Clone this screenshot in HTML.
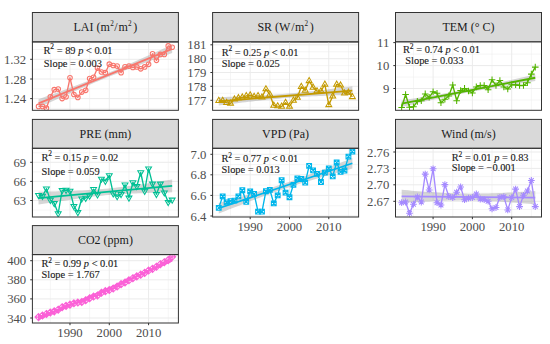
<!DOCTYPE html>
<html><head><meta charset="utf-8"><style>
html,body{margin:0;padding:0;background:#fff;}
body{width:550px;height:344px;overflow:hidden;}
svg{display:block;font-family:"Liberation Serif",serif;}
</style></head><body>
<svg width="550" height="344" viewBox="0 0 550 344">
<rect width="550" height="344" fill="#fff"/>
<rect x="32.40" y="12.50" width="146.00" height="29.40" fill="#D9D9D9" stroke="#333333" stroke-width="1"/>
<g clip-path="url(#cp00)">
<clipPath id="cp00"><rect x="32.40" y="41.90" width="146.00" height="68.40"/></clipPath>
<path d="M32.40 49.47H178.40" stroke="#EBEBEB" stroke-width="0.5"/><path d="M32.40 69.15H178.40" stroke="#EBEBEB" stroke-width="0.5"/><path d="M32.40 88.80H178.40" stroke="#EBEBEB" stroke-width="0.5"/><path d="M32.40 108.42H178.40" stroke="#EBEBEB" stroke-width="0.5"/><path d="M50.34 41.90V110.30" stroke="#EBEBEB" stroke-width="0.5"/><path d="M89.64 41.90V110.30" stroke="#EBEBEB" stroke-width="0.5"/><path d="M128.94 41.90V110.30" stroke="#EBEBEB" stroke-width="0.5"/><path d="M168.24 41.90V110.30" stroke="#EBEBEB" stroke-width="0.5"/><path d="M32.40 59.30H178.40" stroke="#EBEBEB" stroke-width="1"/><path d="M32.40 79.00H178.40" stroke="#EBEBEB" stroke-width="1"/><path d="M32.40 98.60H178.40" stroke="#EBEBEB" stroke-width="1"/><path d="M69.99 41.90V110.30" stroke="#EBEBEB" stroke-width="1"/><path d="M109.29 41.90V110.30" stroke="#EBEBEB" stroke-width="1"/><path d="M148.59 41.90V110.30" stroke="#EBEBEB" stroke-width="1"/>
<polygon points="38.55,99.23 41.89,98.02 45.23,96.81 48.57,95.59 51.91,94.38 55.25,93.16 58.59,91.93 61.93,90.70 65.27,89.47 68.61,88.24 71.95,86.99 75.30,85.74 78.64,84.48 81.98,83.22 85.32,81.94 88.66,80.66 92.00,79.36 95.34,78.05 98.68,76.73 102.02,75.39 105.36,74.04 108.70,72.67 112.04,71.29 115.38,69.89 118.72,68.48 122.06,67.06 125.40,65.62 128.74,64.18 132.08,62.73 135.42,61.26 138.76,59.79 142.11,58.32 145.45,56.84 148.79,55.35 152.13,53.86 155.47,52.36 158.81,50.86 162.15,49.36 165.49,47.85 168.83,46.34 172.17,44.83 172.17,53.03 168.83,54.24 165.49,55.45 162.15,56.66 158.81,57.88 155.47,59.10 152.13,60.32 148.79,61.55 145.45,62.78 142.11,64.02 138.76,65.27 135.42,66.52 132.08,67.77 128.74,69.04 125.40,70.31 122.06,71.60 118.72,72.90 115.38,74.21 112.04,75.53 108.70,76.87 105.36,78.22 102.02,79.59 98.68,80.97 95.34,82.37 92.00,83.78 88.66,85.20 85.32,86.63 81.98,88.08 78.64,89.53 75.30,90.99 71.95,92.46 68.61,93.94 65.27,95.42 61.93,96.91 58.59,98.40 55.25,99.90 51.91,101.40 48.57,102.90 45.23,104.41 41.89,105.91 38.55,107.42" fill="#999999" fill-opacity="0.4"/>
<polyline points="38.55,106.40 42.48,106.40 46.41,108.20 50.34,96.80 54.27,89.70 58.20,89.10 62.13,98.60 66.06,96.80 69.99,77.80 73.92,94.50 77.85,97.40 81.78,92.10 85.71,90.30 89.64,78.50 93.57,77.30 97.50,68.10 101.43,72.00 105.36,72.70 109.29,64.20 113.22,65.50 117.15,66.10 121.08,72.70 125.01,66.80 128.94,66.10 132.87,67.50 136.80,66.90 140.73,68.80 144.66,66.90 148.59,64.30 152.52,53.80 156.45,60.30 160.38,54.40 164.31,54.40 168.24,45.90 172.17,47.20" fill="none" stroke="#F8766D" stroke-width="1.35" stroke-linejoin="round"/>
<circle cx="38.55" cy="106.40" r="2.3" fill="none" stroke="#F8766D" stroke-width="1.05"/><circle cx="42.48" cy="106.40" r="2.3" fill="none" stroke="#F8766D" stroke-width="1.05"/><circle cx="46.41" cy="108.20" r="2.3" fill="none" stroke="#F8766D" stroke-width="1.05"/><circle cx="50.34" cy="96.80" r="2.3" fill="none" stroke="#F8766D" stroke-width="1.05"/><circle cx="54.27" cy="89.70" r="2.3" fill="none" stroke="#F8766D" stroke-width="1.05"/><circle cx="58.20" cy="89.10" r="2.3" fill="none" stroke="#F8766D" stroke-width="1.05"/><circle cx="62.13" cy="98.60" r="2.3" fill="none" stroke="#F8766D" stroke-width="1.05"/><circle cx="66.06" cy="96.80" r="2.3" fill="none" stroke="#F8766D" stroke-width="1.05"/><circle cx="69.99" cy="77.80" r="2.3" fill="none" stroke="#F8766D" stroke-width="1.05"/><circle cx="73.92" cy="94.50" r="2.3" fill="none" stroke="#F8766D" stroke-width="1.05"/><circle cx="77.85" cy="97.40" r="2.3" fill="none" stroke="#F8766D" stroke-width="1.05"/><circle cx="81.78" cy="92.10" r="2.3" fill="none" stroke="#F8766D" stroke-width="1.05"/><circle cx="85.71" cy="90.30" r="2.3" fill="none" stroke="#F8766D" stroke-width="1.05"/><circle cx="89.64" cy="78.50" r="2.3" fill="none" stroke="#F8766D" stroke-width="1.05"/><circle cx="93.57" cy="77.30" r="2.3" fill="none" stroke="#F8766D" stroke-width="1.05"/><circle cx="97.50" cy="68.10" r="2.3" fill="none" stroke="#F8766D" stroke-width="1.05"/><circle cx="101.43" cy="72.00" r="2.3" fill="none" stroke="#F8766D" stroke-width="1.05"/><circle cx="105.36" cy="72.70" r="2.3" fill="none" stroke="#F8766D" stroke-width="1.05"/><circle cx="109.29" cy="64.20" r="2.3" fill="none" stroke="#F8766D" stroke-width="1.05"/><circle cx="113.22" cy="65.50" r="2.3" fill="none" stroke="#F8766D" stroke-width="1.05"/><circle cx="117.15" cy="66.10" r="2.3" fill="none" stroke="#F8766D" stroke-width="1.05"/><circle cx="121.08" cy="72.70" r="2.3" fill="none" stroke="#F8766D" stroke-width="1.05"/><circle cx="125.01" cy="66.80" r="2.3" fill="none" stroke="#F8766D" stroke-width="1.05"/><circle cx="128.94" cy="66.10" r="2.3" fill="none" stroke="#F8766D" stroke-width="1.05"/><circle cx="132.87" cy="67.50" r="2.3" fill="none" stroke="#F8766D" stroke-width="1.05"/><circle cx="136.80" cy="66.90" r="2.3" fill="none" stroke="#F8766D" stroke-width="1.05"/><circle cx="140.73" cy="68.80" r="2.3" fill="none" stroke="#F8766D" stroke-width="1.05"/><circle cx="144.66" cy="66.90" r="2.3" fill="none" stroke="#F8766D" stroke-width="1.05"/><circle cx="148.59" cy="64.30" r="2.3" fill="none" stroke="#F8766D" stroke-width="1.05"/><circle cx="152.52" cy="53.80" r="2.3" fill="none" stroke="#F8766D" stroke-width="1.05"/><circle cx="156.45" cy="60.30" r="2.3" fill="none" stroke="#F8766D" stroke-width="1.05"/><circle cx="160.38" cy="54.40" r="2.3" fill="none" stroke="#F8766D" stroke-width="1.05"/><circle cx="164.31" cy="54.40" r="2.3" fill="none" stroke="#F8766D" stroke-width="1.05"/><circle cx="168.24" cy="45.90" r="2.3" fill="none" stroke="#F8766D" stroke-width="1.05"/><circle cx="172.17" cy="47.20" r="2.3" fill="none" stroke="#F8766D" stroke-width="1.05"/>
<path d="M38.55 103.33L172.17 48.93" stroke="#F8766D" stroke-width="1.8"/>
</g>
<rect x="32.40" y="41.90" width="146.00" height="68.40" fill="none" stroke="#333333" stroke-width="1"/>
<text x="105.40" y="31.10" text-anchor="middle" font-size="12.0" fill="#1A1A1A">LAI (m<tspan dy="-5" font-size="7.2" dx="0.3">2</tspan><tspan dy="5" dx="0.6">/</tspan><tspan dx="0.8">m</tspan><tspan dy="-5" font-size="7.2" dx="0.3">2</tspan><tspan dy="5" dx="1.6">)</tspan></text>
<path d="M30.20 59.30H32.40" stroke="#333333" stroke-width="1"/>
<text x="26.20" y="63.80" text-anchor="end" font-size="12.7" fill="#4D4D4D">1.32</text>
<path d="M30.20 79.00H32.40" stroke="#333333" stroke-width="1"/>
<text x="26.20" y="83.50" text-anchor="end" font-size="12.7" fill="#4D4D4D">1.28</text>
<path d="M30.20 98.60H32.40" stroke="#333333" stroke-width="1"/>
<text x="26.20" y="103.10" text-anchor="end" font-size="12.7" fill="#4D4D4D">1.24</text>
<text x="43.60" y="53.80" font-size="10.4" fill="#1A1A1A" stroke="#1A1A1A" stroke-width="0.12">R<tspan dy="-4.6" dx="-0.2" font-size="7.5">2</tspan><tspan dy="4.6"> = 89 </tspan><tspan font-style="italic">p</tspan> &lt; 0.01</text>
<text x="43.80" y="67.00" font-size="10.4" fill="#1A1A1A" stroke="#1A1A1A" stroke-width="0.12">Slope = 0.003</text>
<rect x="212.60" y="12.50" width="146.00" height="29.40" fill="#D9D9D9" stroke="#333333" stroke-width="1"/>
<g clip-path="url(#cp10)">
<clipPath id="cp10"><rect x="212.60" y="41.90" width="146.00" height="68.40"/></clipPath>
<path d="M212.60 51.75H358.60" stroke="#EBEBEB" stroke-width="0.5"/><path d="M212.60 65.60H358.60" stroke="#EBEBEB" stroke-width="0.5"/><path d="M212.60 79.40H358.60" stroke="#EBEBEB" stroke-width="0.5"/><path d="M212.60 93.30H358.60" stroke="#EBEBEB" stroke-width="0.5"/><path d="M212.60 107.24H358.60" stroke="#EBEBEB" stroke-width="0.5"/><path d="M230.54 41.90V110.30" stroke="#EBEBEB" stroke-width="0.5"/><path d="M269.84 41.90V110.30" stroke="#EBEBEB" stroke-width="0.5"/><path d="M309.14 41.90V110.30" stroke="#EBEBEB" stroke-width="0.5"/><path d="M348.44 41.90V110.30" stroke="#EBEBEB" stroke-width="0.5"/><path d="M212.60 44.80H358.60" stroke="#EBEBEB" stroke-width="1"/><path d="M212.60 58.70H358.60" stroke="#EBEBEB" stroke-width="1"/><path d="M212.60 72.50H358.60" stroke="#EBEBEB" stroke-width="1"/><path d="M212.60 86.30H358.60" stroke="#EBEBEB" stroke-width="1"/><path d="M212.60 100.30H358.60" stroke="#EBEBEB" stroke-width="1"/><path d="M250.19 41.90V110.30" stroke="#EBEBEB" stroke-width="1"/><path d="M289.49 41.90V110.30" stroke="#EBEBEB" stroke-width="1"/><path d="M328.79 41.90V110.30" stroke="#EBEBEB" stroke-width="1"/>
<polygon points="218.75,97.14 222.09,97.02 225.43,96.90 228.77,96.78 232.11,96.66 235.45,96.53 238.79,96.40 242.13,96.27 245.47,96.13 248.81,95.99 252.16,95.83 255.50,95.68 258.84,95.51 262.18,95.34 265.52,95.16 268.86,94.96 272.20,94.76 275.54,94.54 278.88,94.30 282.22,94.06 285.56,93.80 288.90,93.52 292.24,93.23 295.58,92.92 298.92,92.60 302.26,92.27 305.60,91.92 308.94,91.56 312.28,91.20 315.62,90.82 318.97,90.44 322.31,90.05 325.65,89.66 328.99,89.26 332.33,88.85 335.67,88.45 339.01,88.03 342.35,87.62 345.69,87.20 349.03,86.78 352.37,86.35 352.37,94.73 349.03,94.85 345.69,94.96 342.35,95.08 339.01,95.21 335.67,95.33 332.33,95.47 328.99,95.60 325.65,95.74 322.31,95.88 318.97,96.03 315.62,96.19 312.28,96.36 308.94,96.53 305.60,96.71 302.26,96.91 298.92,97.11 295.58,97.33 292.24,97.56 288.90,97.81 285.56,98.07 282.22,98.35 278.88,98.64 275.54,98.95 272.20,99.27 268.86,99.60 265.52,99.95 262.18,100.30 258.84,100.67 255.50,101.04 252.16,101.43 248.81,101.82 245.47,102.21 242.13,102.61 238.79,103.01 235.45,103.42 232.11,103.84 228.77,104.25 225.43,104.67 222.09,105.09 218.75,105.51" fill="#999999" fill-opacity="0.4"/>
<polyline points="218.75,100.70 222.68,100.70 226.61,102.70 230.54,103.40 234.47,99.30 238.40,98.00 242.33,97.30 246.26,95.90 250.19,95.20 254.12,96.60 258.05,95.90 261.98,97.30 265.91,89.10 269.84,94.50 273.77,105.50 277.70,106.10 281.63,106.50 285.56,102.70 289.49,106.40 293.42,100.50 297.35,97.60 301.28,86.70 305.21,90.40 309.14,80.90 313.07,87.50 317.00,91.10 320.93,91.10 324.86,84.50 328.79,104.90 332.72,96.20 336.65,84.50 340.58,85.30 344.51,93.30 348.44,92.50 352.37,96.90" fill="none" stroke="#C49A00" stroke-width="1.35" stroke-linejoin="round"/>
<polygon points="218.75,97.30 221.69,102.40 215.81,102.40" fill="none" stroke="#C49A00" stroke-width="1.05"/><polygon points="222.68,97.30 225.62,102.40 219.74,102.40" fill="none" stroke="#C49A00" stroke-width="1.05"/><polygon points="226.61,99.30 229.55,104.40 223.67,104.40" fill="none" stroke="#C49A00" stroke-width="1.05"/><polygon points="230.54,100.00 233.48,105.10 227.60,105.10" fill="none" stroke="#C49A00" stroke-width="1.05"/><polygon points="234.47,95.90 237.41,101.00 231.53,101.00" fill="none" stroke="#C49A00" stroke-width="1.05"/><polygon points="238.40,94.60 241.34,99.70 235.46,99.70" fill="none" stroke="#C49A00" stroke-width="1.05"/><polygon points="242.33,93.90 245.27,99.00 239.39,99.00" fill="none" stroke="#C49A00" stroke-width="1.05"/><polygon points="246.26,92.50 249.20,97.60 243.32,97.60" fill="none" stroke="#C49A00" stroke-width="1.05"/><polygon points="250.19,91.80 253.13,96.90 247.25,96.90" fill="none" stroke="#C49A00" stroke-width="1.05"/><polygon points="254.12,93.20 257.06,98.30 251.18,98.30" fill="none" stroke="#C49A00" stroke-width="1.05"/><polygon points="258.05,92.50 260.99,97.60 255.11,97.60" fill="none" stroke="#C49A00" stroke-width="1.05"/><polygon points="261.98,93.90 264.92,99.00 259.04,99.00" fill="none" stroke="#C49A00" stroke-width="1.05"/><polygon points="265.91,85.70 268.85,90.80 262.97,90.80" fill="none" stroke="#C49A00" stroke-width="1.05"/><polygon points="269.84,91.10 272.78,96.20 266.90,96.20" fill="none" stroke="#C49A00" stroke-width="1.05"/><polygon points="273.77,102.10 276.71,107.20 270.83,107.20" fill="none" stroke="#C49A00" stroke-width="1.05"/><polygon points="277.70,102.70 280.64,107.80 274.76,107.80" fill="none" stroke="#C49A00" stroke-width="1.05"/><polygon points="281.63,103.10 284.57,108.20 278.69,108.20" fill="none" stroke="#C49A00" stroke-width="1.05"/><polygon points="285.56,99.30 288.50,104.40 282.62,104.40" fill="none" stroke="#C49A00" stroke-width="1.05"/><polygon points="289.49,103.00 292.43,108.10 286.55,108.10" fill="none" stroke="#C49A00" stroke-width="1.05"/><polygon points="293.42,97.10 296.36,102.20 290.48,102.20" fill="none" stroke="#C49A00" stroke-width="1.05"/><polygon points="297.35,94.20 300.29,99.30 294.41,99.30" fill="none" stroke="#C49A00" stroke-width="1.05"/><polygon points="301.28,83.30 304.22,88.40 298.34,88.40" fill="none" stroke="#C49A00" stroke-width="1.05"/><polygon points="305.21,87.00 308.15,92.10 302.27,92.10" fill="none" stroke="#C49A00" stroke-width="1.05"/><polygon points="309.14,77.50 312.08,82.60 306.20,82.60" fill="none" stroke="#C49A00" stroke-width="1.05"/><polygon points="313.07,84.10 316.01,89.20 310.13,89.20" fill="none" stroke="#C49A00" stroke-width="1.05"/><polygon points="317.00,87.70 319.94,92.80 314.06,92.80" fill="none" stroke="#C49A00" stroke-width="1.05"/><polygon points="320.93,87.70 323.87,92.80 317.99,92.80" fill="none" stroke="#C49A00" stroke-width="1.05"/><polygon points="324.86,81.10 327.80,86.20 321.92,86.20" fill="none" stroke="#C49A00" stroke-width="1.05"/><polygon points="328.79,101.50 331.73,106.60 325.85,106.60" fill="none" stroke="#C49A00" stroke-width="1.05"/><polygon points="332.72,92.80 335.66,97.90 329.78,97.90" fill="none" stroke="#C49A00" stroke-width="1.05"/><polygon points="336.65,81.10 339.59,86.20 333.71,86.20" fill="none" stroke="#C49A00" stroke-width="1.05"/><polygon points="340.58,81.90 343.52,87.00 337.64,87.00" fill="none" stroke="#C49A00" stroke-width="1.05"/><polygon points="344.51,89.90 347.45,95.00 341.57,95.00" fill="none" stroke="#C49A00" stroke-width="1.05"/><polygon points="348.44,89.10 351.38,94.20 345.50,94.20" fill="none" stroke="#C49A00" stroke-width="1.05"/><polygon points="352.37,93.50 355.31,98.60 349.43,98.60" fill="none" stroke="#C49A00" stroke-width="1.05"/>
<path d="M218.75 101.33L352.37 90.54" stroke="#C49A00" stroke-width="1.8"/>
</g>
<rect x="212.60" y="41.90" width="146.00" height="68.40" fill="none" stroke="#333333" stroke-width="1"/>
<text x="285.60" y="31.10" text-anchor="middle" font-size="12.0" fill="#1A1A1A">SR (W<tspan dx="0.8">/</tspan><tspan dx="0.4">m</tspan><tspan dy="-5" font-size="7.2" dx="0.3">2</tspan><tspan dy="5" dx="1.6">)</tspan></text>
<path d="M210.40 44.80H212.60" stroke="#333333" stroke-width="1"/>
<text x="206.40" y="49.30" text-anchor="end" font-size="12.7" fill="#4D4D4D">181</text>
<path d="M210.40 58.70H212.60" stroke="#333333" stroke-width="1"/>
<text x="206.40" y="63.20" text-anchor="end" font-size="12.7" fill="#4D4D4D">180</text>
<path d="M210.40 72.50H212.60" stroke="#333333" stroke-width="1"/>
<text x="206.40" y="77.00" text-anchor="end" font-size="12.7" fill="#4D4D4D">179</text>
<path d="M210.40 86.30H212.60" stroke="#333333" stroke-width="1"/>
<text x="206.40" y="90.80" text-anchor="end" font-size="12.7" fill="#4D4D4D">178</text>
<path d="M210.40 100.30H212.60" stroke="#333333" stroke-width="1"/>
<text x="206.40" y="104.80" text-anchor="end" font-size="12.7" fill="#4D4D4D">177</text>
<text x="221.70" y="55.90" font-size="10.4" fill="#1A1A1A" stroke="#1A1A1A" stroke-width="0.12">R<tspan dy="-4.6" dx="-0.2" font-size="7.5">2</tspan><tspan dy="4.6"> = 0.25 </tspan><tspan font-style="italic">p</tspan> &lt; 0.01</text>
<text x="221.70" y="67.00" font-size="10.4" fill="#1A1A1A" stroke="#1A1A1A" stroke-width="0.12">Slope = 0.025</text>
<rect x="395.50" y="12.50" width="146.00" height="29.40" fill="#D9D9D9" stroke="#333333" stroke-width="1"/>
<g clip-path="url(#cp20)">
<clipPath id="cp20"><rect x="395.50" y="41.90" width="146.00" height="68.40"/></clipPath>
<path d="M395.50 54.10H541.50" stroke="#EBEBEB" stroke-width="0.5"/><path d="M395.50 77.05H541.50" stroke="#EBEBEB" stroke-width="0.5"/><path d="M395.50 99.97H541.50" stroke="#EBEBEB" stroke-width="0.5"/><path d="M413.44 41.90V110.30" stroke="#EBEBEB" stroke-width="0.5"/><path d="M452.74 41.90V110.30" stroke="#EBEBEB" stroke-width="0.5"/><path d="M492.04 41.90V110.30" stroke="#EBEBEB" stroke-width="0.5"/><path d="M531.34 41.90V110.30" stroke="#EBEBEB" stroke-width="0.5"/><path d="M395.50 42.60H541.50" stroke="#EBEBEB" stroke-width="1"/><path d="M395.50 65.60H541.50" stroke="#EBEBEB" stroke-width="1"/><path d="M395.50 88.50H541.50" stroke="#EBEBEB" stroke-width="1"/><path d="M433.09 41.90V110.30" stroke="#EBEBEB" stroke-width="1"/><path d="M472.39 41.90V110.30" stroke="#EBEBEB" stroke-width="1"/><path d="M511.69 41.90V110.30" stroke="#EBEBEB" stroke-width="1"/>
<polygon points="401.65,100.39 404.99,99.87 408.33,99.34 411.67,98.81 415.01,98.27 418.35,97.74 421.69,97.20 425.03,96.65 428.37,96.11 431.71,95.56 435.05,95.00 438.40,94.44 441.74,93.88 445.08,93.30 448.42,92.72 451.76,92.14 455.10,91.54 458.44,90.93 461.78,90.31 465.12,89.68 468.46,89.04 471.80,88.38 475.14,87.72 478.48,87.04 481.82,86.35 485.16,85.66 488.50,84.95 491.84,84.24 495.18,83.51 498.52,82.78 501.87,82.05 505.21,81.31 508.55,80.56 511.89,79.81 515.23,79.06 518.57,78.30 521.91,77.54 525.25,76.78 528.59,76.02 531.93,75.25 535.27,74.48 535.27,81.02 531.93,81.55 528.59,82.08 525.25,82.61 521.91,83.15 518.57,83.68 515.23,84.22 511.89,84.76 508.55,85.31 505.21,85.86 501.87,86.41 498.52,86.97 495.18,87.54 491.84,88.11 488.50,88.69 485.16,89.28 481.82,89.88 478.48,90.49 475.14,91.11 471.80,91.74 468.46,92.38 465.12,93.03 461.78,93.70 458.44,94.37 455.10,95.06 451.76,95.76 448.42,96.47 445.08,97.18 441.74,97.90 438.40,98.63 435.05,99.37 431.71,100.11 428.37,100.86 425.03,101.61 421.69,102.36 418.35,103.12 415.01,103.88 411.67,104.64 408.33,105.40 404.99,106.17 401.65,106.94" fill="#999999" fill-opacity="0.4"/>
<polyline points="401.65,107.50 405.58,94.50 409.51,107.30 413.44,106.80 417.37,101.40 421.30,100.70 425.23,93.90 429.16,97.30 433.09,91.80 437.02,93.20 440.95,102.70 444.88,99.30 448.81,95.90 452.74,85.00 456.67,100.70 460.60,90.50 464.53,88.40 468.46,91.00 472.39,93.00 476.32,86.90 480.25,85.50 484.18,85.50 488.11,89.80 492.04,79.80 495.97,85.50 499.90,80.50 503.83,86.90 507.76,89.00 511.69,84.80 515.62,84.80 519.55,85.50 523.48,85.50 527.41,82.70 531.34,74.10 535.27,67.10" fill="none" stroke="#53B400" stroke-width="1.35" stroke-linejoin="round"/>
<path d="M398.35 107.50H404.95M401.65 104.20V110.80" stroke="#53B400" stroke-width="1.05"/><path d="M402.28 94.50H408.88M405.58 91.20V97.80" stroke="#53B400" stroke-width="1.05"/><path d="M406.21 107.30H412.81M409.51 104.00V110.60" stroke="#53B400" stroke-width="1.05"/><path d="M410.14 106.80H416.74M413.44 103.50V110.10" stroke="#53B400" stroke-width="1.05"/><path d="M414.07 101.40H420.67M417.37 98.10V104.70" stroke="#53B400" stroke-width="1.05"/><path d="M418.00 100.70H424.60M421.30 97.40V104.00" stroke="#53B400" stroke-width="1.05"/><path d="M421.93 93.90H428.53M425.23 90.60V97.20" stroke="#53B400" stroke-width="1.05"/><path d="M425.86 97.30H432.46M429.16 94.00V100.60" stroke="#53B400" stroke-width="1.05"/><path d="M429.79 91.80H436.39M433.09 88.50V95.10" stroke="#53B400" stroke-width="1.05"/><path d="M433.72 93.20H440.32M437.02 89.90V96.50" stroke="#53B400" stroke-width="1.05"/><path d="M437.65 102.70H444.25M440.95 99.40V106.00" stroke="#53B400" stroke-width="1.05"/><path d="M441.58 99.30H448.18M444.88 96.00V102.60" stroke="#53B400" stroke-width="1.05"/><path d="M445.51 95.90H452.11M448.81 92.60V99.20" stroke="#53B400" stroke-width="1.05"/><path d="M449.44 85.00H456.04M452.74 81.70V88.30" stroke="#53B400" stroke-width="1.05"/><path d="M453.37 100.70H459.97M456.67 97.40V104.00" stroke="#53B400" stroke-width="1.05"/><path d="M457.30 90.50H463.90M460.60 87.20V93.80" stroke="#53B400" stroke-width="1.05"/><path d="M461.23 88.40H467.83M464.53 85.10V91.70" stroke="#53B400" stroke-width="1.05"/><path d="M465.16 91.00H471.76M468.46 87.70V94.30" stroke="#53B400" stroke-width="1.05"/><path d="M469.09 93.00H475.69M472.39 89.70V96.30" stroke="#53B400" stroke-width="1.05"/><path d="M473.02 86.90H479.62M476.32 83.60V90.20" stroke="#53B400" stroke-width="1.05"/><path d="M476.95 85.50H483.55M480.25 82.20V88.80" stroke="#53B400" stroke-width="1.05"/><path d="M480.88 85.50H487.48M484.18 82.20V88.80" stroke="#53B400" stroke-width="1.05"/><path d="M484.81 89.80H491.41M488.11 86.50V93.10" stroke="#53B400" stroke-width="1.05"/><path d="M488.74 79.80H495.34M492.04 76.50V83.10" stroke="#53B400" stroke-width="1.05"/><path d="M492.67 85.50H499.27M495.97 82.20V88.80" stroke="#53B400" stroke-width="1.05"/><path d="M496.60 80.50H503.20M499.90 77.20V83.80" stroke="#53B400" stroke-width="1.05"/><path d="M500.53 86.90H507.13M503.83 83.60V90.20" stroke="#53B400" stroke-width="1.05"/><path d="M504.46 89.00H511.06M507.76 85.70V92.30" stroke="#53B400" stroke-width="1.05"/><path d="M508.39 84.80H514.99M511.69 81.50V88.10" stroke="#53B400" stroke-width="1.05"/><path d="M512.32 84.80H518.92M515.62 81.50V88.10" stroke="#53B400" stroke-width="1.05"/><path d="M516.25 85.50H522.85M519.55 82.20V88.80" stroke="#53B400" stroke-width="1.05"/><path d="M520.18 85.50H526.78M523.48 82.20V88.80" stroke="#53B400" stroke-width="1.05"/><path d="M524.11 82.70H530.71M527.41 79.40V86.00" stroke="#53B400" stroke-width="1.05"/><path d="M528.04 74.10H534.64M531.34 70.80V77.40" stroke="#53B400" stroke-width="1.05"/><path d="M531.97 67.10H538.57M535.27 63.80V70.40" stroke="#53B400" stroke-width="1.05"/>
<path d="M401.65 103.66L535.27 77.75" stroke="#53B400" stroke-width="1.8"/>
</g>
<rect x="395.50" y="41.90" width="146.00" height="68.40" fill="none" stroke="#333333" stroke-width="1"/>
<text x="468.50" y="31.10" text-anchor="middle" font-size="12.0" fill="#1A1A1A">TEM (° C)</text>
<path d="M393.30 42.60H395.50" stroke="#333333" stroke-width="1"/>
<text x="389.30" y="47.10" text-anchor="end" font-size="12.7" fill="#4D4D4D">11</text>
<path d="M393.30 65.60H395.50" stroke="#333333" stroke-width="1"/>
<text x="389.30" y="70.10" text-anchor="end" font-size="12.7" fill="#4D4D4D">10</text>
<path d="M393.30 88.50H395.50" stroke="#333333" stroke-width="1"/>
<text x="389.30" y="93.00" text-anchor="end" font-size="12.7" fill="#4D4D4D">9</text>
<text x="403.10" y="53.10" font-size="10.4" fill="#1A1A1A" stroke="#1A1A1A" stroke-width="0.12">R<tspan dy="-4.6" dx="-0.2" font-size="7.5">2</tspan><tspan dy="4.6"> = 0.74 </tspan><tspan font-style="italic">p</tspan> &lt; 0.01</text>
<text x="405.30" y="64.10" font-size="10.4" fill="#1A1A1A" stroke="#1A1A1A" stroke-width="0.12">Slope = 0.033</text>
<rect x="32.40" y="119.40" width="146.00" height="28.90" fill="#D9D9D9" stroke="#333333" stroke-width="1"/>
<g clip-path="url(#cp01)">
<clipPath id="cp01"><rect x="32.40" y="148.30" width="146.00" height="68.70"/></clipPath>
<path d="M32.40 152.75H178.40" stroke="#EBEBEB" stroke-width="0.5"/><path d="M32.40 171.85H178.40" stroke="#EBEBEB" stroke-width="0.5"/><path d="M32.40 190.95H178.40" stroke="#EBEBEB" stroke-width="0.5"/><path d="M32.40 210.05H178.40" stroke="#EBEBEB" stroke-width="0.5"/><path d="M50.34 148.30V217.00" stroke="#EBEBEB" stroke-width="0.5"/><path d="M89.64 148.30V217.00" stroke="#EBEBEB" stroke-width="0.5"/><path d="M128.94 148.30V217.00" stroke="#EBEBEB" stroke-width="0.5"/><path d="M168.24 148.30V217.00" stroke="#EBEBEB" stroke-width="0.5"/><path d="M32.40 162.30H178.40" stroke="#EBEBEB" stroke-width="1"/><path d="M32.40 181.40H178.40" stroke="#EBEBEB" stroke-width="1"/><path d="M32.40 200.50H178.40" stroke="#EBEBEB" stroke-width="1"/><path d="M69.99 148.30V217.00" stroke="#EBEBEB" stroke-width="1"/><path d="M109.29 148.30V217.00" stroke="#EBEBEB" stroke-width="1"/><path d="M148.59 148.30V217.00" stroke="#EBEBEB" stroke-width="1"/>
<polygon points="38.55,191.79 41.89,191.72 45.23,191.64 48.57,191.56 51.91,191.48 55.25,191.39 58.59,191.30 61.93,191.20 65.27,191.09 68.61,190.97 71.95,190.85 75.30,190.71 78.64,190.57 81.98,190.40 85.32,190.23 88.66,190.04 92.00,189.83 95.34,189.60 98.68,189.35 102.02,189.07 105.36,188.78 108.70,188.46 112.04,188.12 115.38,187.75 118.72,187.37 122.06,186.96 125.40,186.54 128.74,186.10 132.08,185.64 135.42,185.18 138.76,184.70 142.11,184.21 145.45,183.71 148.79,183.20 152.13,182.68 155.47,182.16 158.81,181.64 162.15,181.11 165.49,180.57 168.83,180.03 172.17,179.49 172.17,192.32 168.83,192.39 165.49,192.46 162.15,192.54 158.81,192.63 155.47,192.72 152.13,192.81 148.79,192.91 145.45,193.02 142.11,193.14 138.76,193.26 135.42,193.40 132.08,193.54 128.74,193.70 125.40,193.88 122.06,194.07 118.72,194.28 115.38,194.51 112.04,194.76 108.70,195.03 105.36,195.33 102.02,195.65 98.68,195.99 95.34,196.36 92.00,196.74 88.66,197.15 85.32,197.57 81.98,198.01 78.64,198.46 75.30,198.93 71.95,199.41 68.61,199.90 65.27,200.40 61.93,200.91 58.59,201.42 55.25,201.94 51.91,202.47 48.57,203.00 45.23,203.54 41.89,204.08 38.55,204.62" fill="#999999" fill-opacity="0.4"/>
<polyline points="38.55,195.20 42.48,196.00 46.41,188.70 50.34,200.00 54.27,203.30 58.20,213.50 62.13,190.30 66.06,190.00 69.99,191.00 73.92,206.20 77.85,212.30 81.78,198.70 85.71,198.00 89.64,195.90 93.57,189.10 97.50,194.60 101.43,178.90 105.36,181.00 109.29,175.40 113.22,193.50 117.15,196.40 121.08,194.20 125.01,184.70 128.94,197.80 132.87,182.50 136.80,186.20 140.73,172.50 144.66,191.00 148.59,168.60 152.52,183.80 156.45,194.20 160.38,183.80 164.31,192.60 168.24,202.20 172.17,199.80" fill="none" stroke="#00C094" stroke-width="1.35" stroke-linejoin="round"/>
<polygon points="38.55,198.60 41.49,193.50 35.61,193.50" fill="none" stroke="#00C094" stroke-width="1.05"/><polygon points="42.48,199.40 45.42,194.30 39.54,194.30" fill="none" stroke="#00C094" stroke-width="1.05"/><polygon points="46.41,192.10 49.35,187.00 43.47,187.00" fill="none" stroke="#00C094" stroke-width="1.05"/><polygon points="50.34,203.40 53.28,198.30 47.40,198.30" fill="none" stroke="#00C094" stroke-width="1.05"/><polygon points="54.27,206.70 57.21,201.60 51.33,201.60" fill="none" stroke="#00C094" stroke-width="1.05"/><polygon points="58.20,216.90 61.14,211.80 55.26,211.80" fill="none" stroke="#00C094" stroke-width="1.05"/><polygon points="62.13,193.70 65.07,188.60 59.19,188.60" fill="none" stroke="#00C094" stroke-width="1.05"/><polygon points="66.06,193.40 69.00,188.30 63.12,188.30" fill="none" stroke="#00C094" stroke-width="1.05"/><polygon points="69.99,194.40 72.93,189.30 67.05,189.30" fill="none" stroke="#00C094" stroke-width="1.05"/><polygon points="73.92,209.60 76.86,204.50 70.98,204.50" fill="none" stroke="#00C094" stroke-width="1.05"/><polygon points="77.85,215.70 80.79,210.60 74.91,210.60" fill="none" stroke="#00C094" stroke-width="1.05"/><polygon points="81.78,202.10 84.72,197.00 78.84,197.00" fill="none" stroke="#00C094" stroke-width="1.05"/><polygon points="85.71,201.40 88.65,196.30 82.77,196.30" fill="none" stroke="#00C094" stroke-width="1.05"/><polygon points="89.64,199.30 92.58,194.20 86.70,194.20" fill="none" stroke="#00C094" stroke-width="1.05"/><polygon points="93.57,192.50 96.51,187.40 90.63,187.40" fill="none" stroke="#00C094" stroke-width="1.05"/><polygon points="97.50,198.00 100.44,192.90 94.56,192.90" fill="none" stroke="#00C094" stroke-width="1.05"/><polygon points="101.43,182.30 104.37,177.20 98.49,177.20" fill="none" stroke="#00C094" stroke-width="1.05"/><polygon points="105.36,184.40 108.30,179.30 102.42,179.30" fill="none" stroke="#00C094" stroke-width="1.05"/><polygon points="109.29,178.80 112.23,173.70 106.35,173.70" fill="none" stroke="#00C094" stroke-width="1.05"/><polygon points="113.22,196.90 116.16,191.80 110.28,191.80" fill="none" stroke="#00C094" stroke-width="1.05"/><polygon points="117.15,199.80 120.09,194.70 114.21,194.70" fill="none" stroke="#00C094" stroke-width="1.05"/><polygon points="121.08,197.60 124.02,192.50 118.14,192.50" fill="none" stroke="#00C094" stroke-width="1.05"/><polygon points="125.01,188.10 127.95,183.00 122.07,183.00" fill="none" stroke="#00C094" stroke-width="1.05"/><polygon points="128.94,201.20 131.88,196.10 126.00,196.10" fill="none" stroke="#00C094" stroke-width="1.05"/><polygon points="132.87,185.90 135.81,180.80 129.93,180.80" fill="none" stroke="#00C094" stroke-width="1.05"/><polygon points="136.80,189.60 139.74,184.50 133.86,184.50" fill="none" stroke="#00C094" stroke-width="1.05"/><polygon points="140.73,175.90 143.67,170.80 137.79,170.80" fill="none" stroke="#00C094" stroke-width="1.05"/><polygon points="144.66,194.40 147.60,189.30 141.72,189.30" fill="none" stroke="#00C094" stroke-width="1.05"/><polygon points="148.59,172.00 151.53,166.90 145.65,166.90" fill="none" stroke="#00C094" stroke-width="1.05"/><polygon points="152.52,187.20 155.46,182.10 149.58,182.10" fill="none" stroke="#00C094" stroke-width="1.05"/><polygon points="156.45,197.60 159.39,192.50 153.51,192.50" fill="none" stroke="#00C094" stroke-width="1.05"/><polygon points="160.38,187.20 163.32,182.10 157.44,182.10" fill="none" stroke="#00C094" stroke-width="1.05"/><polygon points="164.31,196.00 167.25,190.90 161.37,190.90" fill="none" stroke="#00C094" stroke-width="1.05"/><polygon points="168.24,205.60 171.18,200.50 165.30,200.50" fill="none" stroke="#00C094" stroke-width="1.05"/><polygon points="172.17,203.20 175.11,198.10 169.23,198.10" fill="none" stroke="#00C094" stroke-width="1.05"/>
<path d="M38.55 198.21L172.17 185.90" stroke="#00C094" stroke-width="1.8"/>
</g>
<rect x="32.40" y="148.30" width="146.00" height="68.70" fill="none" stroke="#333333" stroke-width="1"/>
<text x="105.40" y="138.00" text-anchor="middle" font-size="12.0" fill="#1A1A1A">PRE (mm)</text>
<path d="M30.20 162.30H32.40" stroke="#333333" stroke-width="1"/>
<text x="26.20" y="166.80" text-anchor="end" font-size="12.7" fill="#4D4D4D">69</text>
<path d="M30.20 181.40H32.40" stroke="#333333" stroke-width="1"/>
<text x="26.20" y="185.90" text-anchor="end" font-size="12.7" fill="#4D4D4D">66</text>
<path d="M30.20 200.50H32.40" stroke="#333333" stroke-width="1"/>
<text x="26.20" y="205.00" text-anchor="end" font-size="12.7" fill="#4D4D4D">63</text>
<text x="41.50" y="160.80" font-size="10.4" fill="#1A1A1A" stroke="#1A1A1A" stroke-width="0.12">R<tspan dy="-4.6" dx="-0.2" font-size="7.5">2</tspan><tspan dy="4.6"> = 0.15 </tspan><tspan font-style="italic">p</tspan> = 0.02</text>
<text x="41.50" y="175.00" font-size="10.4" fill="#1A1A1A" stroke="#1A1A1A" stroke-width="0.12">Slope = 0.059</text>
<rect x="212.60" y="119.40" width="146.00" height="28.90" fill="#D9D9D9" stroke="#333333" stroke-width="1"/>
<g clip-path="url(#cp11)">
<clipPath id="cp11"><rect x="212.60" y="148.30" width="146.00" height="68.70"/></clipPath>
<path d="M212.60 164.55H358.60" stroke="#EBEBEB" stroke-width="0.5"/><path d="M212.60 185.10H358.60" stroke="#EBEBEB" stroke-width="0.5"/><path d="M212.60 205.70H358.60" stroke="#EBEBEB" stroke-width="0.5"/><path d="M230.54 148.30V217.00" stroke="#EBEBEB" stroke-width="0.5"/><path d="M269.84 148.30V217.00" stroke="#EBEBEB" stroke-width="0.5"/><path d="M309.14 148.30V217.00" stroke="#EBEBEB" stroke-width="0.5"/><path d="M348.44 148.30V217.00" stroke="#EBEBEB" stroke-width="0.5"/><path d="M212.60 154.30H358.60" stroke="#EBEBEB" stroke-width="1"/><path d="M212.60 174.80H358.60" stroke="#EBEBEB" stroke-width="1"/><path d="M212.60 195.40H358.60" stroke="#EBEBEB" stroke-width="1"/><path d="M212.60 216.00H358.60" stroke="#EBEBEB" stroke-width="1"/><path d="M250.19 148.30V217.00" stroke="#EBEBEB" stroke-width="1"/><path d="M289.49 148.30V217.00" stroke="#EBEBEB" stroke-width="1"/><path d="M328.79 148.30V217.00" stroke="#EBEBEB" stroke-width="1"/>
<polygon points="218.75,202.99 222.09,202.06 225.43,201.12 228.77,200.18 232.11,199.24 235.45,198.30 238.79,197.35 242.13,196.40 245.47,195.43 248.81,194.47 252.16,193.49 255.50,192.51 258.84,191.52 262.18,190.51 265.52,189.50 268.86,188.47 272.20,187.42 275.54,186.36 278.88,185.28 282.22,184.19 285.56,183.07 288.90,181.94 292.24,180.79 295.58,179.62 298.92,178.43 302.26,177.22 305.60,176.00 308.94,174.77 312.28,173.52 315.62,172.27 318.97,171.00 322.31,169.73 325.65,168.44 328.99,167.16 332.33,165.86 335.67,164.56 339.01,163.26 342.35,161.95 345.69,160.64 349.03,159.32 352.37,158.00 352.37,168.54 349.03,169.48 345.69,170.41 342.35,171.35 339.01,172.29 335.67,173.23 332.33,174.18 328.99,175.14 325.65,176.10 322.31,177.06 318.97,178.04 315.62,179.02 312.28,180.01 308.94,181.02 305.60,182.03 302.26,183.06 298.92,184.11 295.58,185.17 292.24,186.25 288.90,187.34 285.56,188.46 282.22,189.59 278.88,190.75 275.54,191.92 272.20,193.10 268.86,194.31 265.52,195.53 262.18,196.76 258.84,198.01 255.50,199.26 252.16,200.53 248.81,201.81 245.47,203.09 242.13,204.38 238.79,205.67 235.45,206.97 232.11,208.28 228.77,209.58 225.43,210.90 222.09,212.21 218.75,213.53" fill="#999999" fill-opacity="0.4"/>
<polyline points="218.75,207.90 222.68,196.30 226.61,202.40 230.54,201.20 234.47,200.60 238.40,196.30 242.33,190.20 246.26,201.80 250.19,191.30 254.12,193.90 258.05,211.60 261.98,211.60 265.91,191.20 269.84,189.80 273.77,203.40 277.70,195.30 281.63,180.20 285.56,192.60 289.49,197.20 293.42,184.80 297.35,178.30 301.28,179.00 305.21,182.60 309.14,165.90 313.07,170.30 317.00,173.90 320.93,182.00 324.86,172.60 328.79,168.30 332.72,176.30 336.65,162.50 340.58,171.90 344.51,170.50 348.44,156.60 352.37,151.50" fill="none" stroke="#00B6EB" stroke-width="1.35" stroke-linejoin="round"/>
<path d="M216.35 205.50h4.80v4.80h-4.80zM216.35 205.50l4.80 4.80M221.15 205.50l-4.80 4.80" fill="none" stroke="#00B6EB" stroke-width="1.05"/><path d="M220.28 193.90h4.80v4.80h-4.80zM220.28 193.90l4.80 4.80M225.08 193.90l-4.80 4.80" fill="none" stroke="#00B6EB" stroke-width="1.05"/><path d="M224.21 200.00h4.80v4.80h-4.80zM224.21 200.00l4.80 4.80M229.01 200.00l-4.80 4.80" fill="none" stroke="#00B6EB" stroke-width="1.05"/><path d="M228.14 198.80h4.80v4.80h-4.80zM228.14 198.80l4.80 4.80M232.94 198.80l-4.80 4.80" fill="none" stroke="#00B6EB" stroke-width="1.05"/><path d="M232.07 198.20h4.80v4.80h-4.80zM232.07 198.20l4.80 4.80M236.87 198.20l-4.80 4.80" fill="none" stroke="#00B6EB" stroke-width="1.05"/><path d="M236.00 193.90h4.80v4.80h-4.80zM236.00 193.90l4.80 4.80M240.80 193.90l-4.80 4.80" fill="none" stroke="#00B6EB" stroke-width="1.05"/><path d="M239.93 187.80h4.80v4.80h-4.80zM239.93 187.80l4.80 4.80M244.73 187.80l-4.80 4.80" fill="none" stroke="#00B6EB" stroke-width="1.05"/><path d="M243.86 199.40h4.80v4.80h-4.80zM243.86 199.40l4.80 4.80M248.66 199.40l-4.80 4.80" fill="none" stroke="#00B6EB" stroke-width="1.05"/><path d="M247.79 188.90h4.80v4.80h-4.80zM247.79 188.90l4.80 4.80M252.59 188.90l-4.80 4.80" fill="none" stroke="#00B6EB" stroke-width="1.05"/><path d="M251.72 191.50h4.80v4.80h-4.80zM251.72 191.50l4.80 4.80M256.52 191.50l-4.80 4.80" fill="none" stroke="#00B6EB" stroke-width="1.05"/><path d="M255.65 209.20h4.80v4.80h-4.80zM255.65 209.20l4.80 4.80M260.45 209.20l-4.80 4.80" fill="none" stroke="#00B6EB" stroke-width="1.05"/><path d="M259.58 209.20h4.80v4.80h-4.80zM259.58 209.20l4.80 4.80M264.38 209.20l-4.80 4.80" fill="none" stroke="#00B6EB" stroke-width="1.05"/><path d="M263.51 188.80h4.80v4.80h-4.80zM263.51 188.80l4.80 4.80M268.31 188.80l-4.80 4.80" fill="none" stroke="#00B6EB" stroke-width="1.05"/><path d="M267.44 187.40h4.80v4.80h-4.80zM267.44 187.40l4.80 4.80M272.24 187.40l-4.80 4.80" fill="none" stroke="#00B6EB" stroke-width="1.05"/><path d="M271.37 201.00h4.80v4.80h-4.80zM271.37 201.00l4.80 4.80M276.17 201.00l-4.80 4.80" fill="none" stroke="#00B6EB" stroke-width="1.05"/><path d="M275.30 192.90h4.80v4.80h-4.80zM275.30 192.90l4.80 4.80M280.10 192.90l-4.80 4.80" fill="none" stroke="#00B6EB" stroke-width="1.05"/><path d="M279.23 177.80h4.80v4.80h-4.80zM279.23 177.80l4.80 4.80M284.03 177.80l-4.80 4.80" fill="none" stroke="#00B6EB" stroke-width="1.05"/><path d="M283.16 190.20h4.80v4.80h-4.80zM283.16 190.20l4.80 4.80M287.96 190.20l-4.80 4.80" fill="none" stroke="#00B6EB" stroke-width="1.05"/><path d="M287.09 194.80h4.80v4.80h-4.80zM287.09 194.80l4.80 4.80M291.89 194.80l-4.80 4.80" fill="none" stroke="#00B6EB" stroke-width="1.05"/><path d="M291.02 182.40h4.80v4.80h-4.80zM291.02 182.40l4.80 4.80M295.82 182.40l-4.80 4.80" fill="none" stroke="#00B6EB" stroke-width="1.05"/><path d="M294.95 175.90h4.80v4.80h-4.80zM294.95 175.90l4.80 4.80M299.75 175.90l-4.80 4.80" fill="none" stroke="#00B6EB" stroke-width="1.05"/><path d="M298.88 176.60h4.80v4.80h-4.80zM298.88 176.60l4.80 4.80M303.68 176.60l-4.80 4.80" fill="none" stroke="#00B6EB" stroke-width="1.05"/><path d="M302.81 180.20h4.80v4.80h-4.80zM302.81 180.20l4.80 4.80M307.61 180.20l-4.80 4.80" fill="none" stroke="#00B6EB" stroke-width="1.05"/><path d="M306.74 163.50h4.80v4.80h-4.80zM306.74 163.50l4.80 4.80M311.54 163.50l-4.80 4.80" fill="none" stroke="#00B6EB" stroke-width="1.05"/><path d="M310.67 167.90h4.80v4.80h-4.80zM310.67 167.90l4.80 4.80M315.47 167.90l-4.80 4.80" fill="none" stroke="#00B6EB" stroke-width="1.05"/><path d="M314.60 171.50h4.80v4.80h-4.80zM314.60 171.50l4.80 4.80M319.40 171.50l-4.80 4.80" fill="none" stroke="#00B6EB" stroke-width="1.05"/><path d="M318.53 179.60h4.80v4.80h-4.80zM318.53 179.60l4.80 4.80M323.33 179.60l-4.80 4.80" fill="none" stroke="#00B6EB" stroke-width="1.05"/><path d="M322.46 170.20h4.80v4.80h-4.80zM322.46 170.20l4.80 4.80M327.26 170.20l-4.80 4.80" fill="none" stroke="#00B6EB" stroke-width="1.05"/><path d="M326.39 165.90h4.80v4.80h-4.80zM326.39 165.90l4.80 4.80M331.19 165.90l-4.80 4.80" fill="none" stroke="#00B6EB" stroke-width="1.05"/><path d="M330.32 173.90h4.80v4.80h-4.80zM330.32 173.90l4.80 4.80M335.12 173.90l-4.80 4.80" fill="none" stroke="#00B6EB" stroke-width="1.05"/><path d="M334.25 160.10h4.80v4.80h-4.80zM334.25 160.10l4.80 4.80M339.05 160.10l-4.80 4.80" fill="none" stroke="#00B6EB" stroke-width="1.05"/><path d="M338.18 169.50h4.80v4.80h-4.80zM338.18 169.50l4.80 4.80M342.98 169.50l-4.80 4.80" fill="none" stroke="#00B6EB" stroke-width="1.05"/><path d="M342.11 168.10h4.80v4.80h-4.80zM342.11 168.10l4.80 4.80M346.91 168.10l-4.80 4.80" fill="none" stroke="#00B6EB" stroke-width="1.05"/><path d="M346.04 154.20h4.80v4.80h-4.80zM346.04 154.20l4.80 4.80M350.84 154.20l-4.80 4.80" fill="none" stroke="#00B6EB" stroke-width="1.05"/><path d="M349.97 149.10h4.80v4.80h-4.80zM349.97 149.10l4.80 4.80M354.77 149.10l-4.80 4.80" fill="none" stroke="#00B6EB" stroke-width="1.05"/>
<path d="M218.75 208.26L352.37 163.27" stroke="#00B6EB" stroke-width="1.8"/>
</g>
<rect x="212.60" y="148.30" width="146.00" height="68.70" fill="none" stroke="#333333" stroke-width="1"/>
<text x="285.60" y="138.00" text-anchor="middle" font-size="12.0" fill="#1A1A1A">VPD (Pa)</text>
<path d="M210.40 154.30H212.60" stroke="#333333" stroke-width="1"/>
<text x="206.40" y="158.80" text-anchor="end" font-size="12.7" fill="#4D4D4D">7.0</text>
<path d="M210.40 174.80H212.60" stroke="#333333" stroke-width="1"/>
<text x="206.40" y="179.30" text-anchor="end" font-size="12.7" fill="#4D4D4D">6.8</text>
<path d="M210.40 195.40H212.60" stroke="#333333" stroke-width="1"/>
<text x="206.40" y="199.90" text-anchor="end" font-size="12.7" fill="#4D4D4D">6.6</text>
<path d="M210.40 216.00H212.60" stroke="#333333" stroke-width="1"/>
<text x="206.40" y="220.50" text-anchor="end" font-size="12.7" fill="#4D4D4D">6.4</text>
<path d="M250.19 217.00V219.20" stroke="#333333" stroke-width="1"/>
<text x="250.19" y="231.10" text-anchor="middle" font-size="12.7" fill="#4D4D4D">1990</text>
<path d="M289.49 217.00V219.20" stroke="#333333" stroke-width="1"/>
<text x="289.49" y="231.10" text-anchor="middle" font-size="12.7" fill="#4D4D4D">2000</text>
<path d="M328.79 217.00V219.20" stroke="#333333" stroke-width="1"/>
<text x="328.79" y="231.10" text-anchor="middle" font-size="12.7" fill="#4D4D4D">2010</text>
<text x="221.50" y="162.40" font-size="10.4" fill="#1A1A1A" stroke="#1A1A1A" stroke-width="0.12">R<tspan dy="-4.6" dx="-0.2" font-size="7.5">2</tspan><tspan dy="4.6"> = 0.77 </tspan><tspan font-style="italic">p</tspan> &lt; 0.01</text>
<text x="221.50" y="172.50" font-size="10.4" fill="#1A1A1A" stroke="#1A1A1A" stroke-width="0.12">Slope = 0.013</text>
<rect x="395.50" y="119.40" width="146.00" height="28.90" fill="#D9D9D9" stroke="#333333" stroke-width="1"/>
<g clip-path="url(#cp21)">
<clipPath id="cp21"><rect x="395.50" y="148.30" width="146.00" height="68.70"/></clipPath>
<path d="M395.50 160.20H541.50" stroke="#EBEBEB" stroke-width="0.5"/><path d="M395.50 176.60H541.50" stroke="#EBEBEB" stroke-width="0.5"/><path d="M395.50 193.05H541.50" stroke="#EBEBEB" stroke-width="0.5"/><path d="M395.50 209.52H541.50" stroke="#EBEBEB" stroke-width="0.5"/><path d="M413.44 148.30V217.00" stroke="#EBEBEB" stroke-width="0.5"/><path d="M452.74 148.30V217.00" stroke="#EBEBEB" stroke-width="0.5"/><path d="M492.04 148.30V217.00" stroke="#EBEBEB" stroke-width="0.5"/><path d="M531.34 148.30V217.00" stroke="#EBEBEB" stroke-width="0.5"/><path d="M395.50 152.00H541.50" stroke="#EBEBEB" stroke-width="1"/><path d="M395.50 168.40H541.50" stroke="#EBEBEB" stroke-width="1"/><path d="M395.50 184.80H541.50" stroke="#EBEBEB" stroke-width="1"/><path d="M395.50 201.30H541.50" stroke="#EBEBEB" stroke-width="1"/><path d="M433.09 148.30V217.00" stroke="#EBEBEB" stroke-width="1"/><path d="M472.39 148.30V217.00" stroke="#EBEBEB" stroke-width="1"/><path d="M511.69 148.30V217.00" stroke="#EBEBEB" stroke-width="1"/>
<polygon points="401.65,189.82 404.99,190.09 408.33,190.36 411.67,190.63 415.01,190.89 418.35,191.14 421.69,191.39 425.03,191.63 428.37,191.87 431.71,192.10 435.05,192.31 438.40,192.52 441.74,192.72 445.08,192.90 448.42,193.06 451.76,193.21 455.10,193.34 458.44,193.45 461.78,193.54 465.12,193.61 468.46,193.65 471.80,193.67 475.14,193.66 478.48,193.64 481.82,193.59 485.16,193.52 488.50,193.43 491.84,193.32 495.18,193.20 498.52,193.07 501.87,192.92 505.21,192.76 508.55,192.60 511.89,192.42 515.23,192.24 518.57,192.05 521.91,191.85 525.25,191.65 528.59,191.45 531.93,191.24 535.27,191.03 535.27,204.21 531.93,203.94 528.59,203.67 525.25,203.41 521.91,203.15 518.57,202.89 515.23,202.64 511.89,202.40 508.55,202.16 505.21,201.94 501.87,201.72 498.52,201.51 495.18,201.32 491.84,201.14 488.50,200.97 485.16,200.82 481.82,200.69 478.48,200.58 475.14,200.49 471.80,200.43 468.46,200.38 465.12,200.37 461.78,200.37 458.44,200.40 455.10,200.45 451.76,200.52 448.42,200.61 445.08,200.71 441.74,200.83 438.40,200.97 435.05,201.11 431.71,201.27 428.37,201.44 425.03,201.61 421.69,201.80 418.35,201.99 415.01,202.18 411.67,202.38 408.33,202.58 404.99,202.79 401.65,203.00" fill="#999999" fill-opacity="0.4"/>
<polyline points="401.65,202.70 405.58,202.00 409.51,213.30 413.44,204.20 417.37,197.00 421.30,202.00 425.23,174.10 429.16,189.90 433.09,168.80 437.02,202.70 440.95,205.00 444.88,184.60 448.81,196.50 452.74,197.50 456.67,192.20 460.60,186.90 464.53,199.70 468.46,198.20 472.39,197.50 476.32,194.00 480.25,199.00 484.18,199.70 488.11,201.20 492.04,208.80 495.97,207.50 499.90,197.30 503.83,196.70 507.76,209.90 511.69,197.60 515.62,189.10 519.55,206.60 523.48,195.30 527.41,191.00 531.34,180.50 535.27,206.60" fill="none" stroke="#A58AFF" stroke-width="1.35" stroke-linejoin="round"/>
<path d="M398.25 202.70H405.05M401.65 199.30V206.10M399.25 200.30L404.05 205.10M404.05 200.30L399.25 205.10" stroke="#A58AFF" stroke-width="1.05"/><path d="M402.18 202.00H408.98M405.58 198.60V205.40M403.18 199.60L407.98 204.40M407.98 199.60L403.18 204.40" stroke="#A58AFF" stroke-width="1.05"/><path d="M406.11 213.30H412.91M409.51 209.90V216.70M407.11 210.90L411.91 215.70M411.91 210.90L407.11 215.70" stroke="#A58AFF" stroke-width="1.05"/><path d="M410.04 204.20H416.84M413.44 200.80V207.60M411.04 201.80L415.84 206.60M415.84 201.80L411.04 206.60" stroke="#A58AFF" stroke-width="1.05"/><path d="M413.97 197.00H420.77M417.37 193.60V200.40M414.97 194.60L419.77 199.40M419.77 194.60L414.97 199.40" stroke="#A58AFF" stroke-width="1.05"/><path d="M417.90 202.00H424.70M421.30 198.60V205.40M418.90 199.60L423.70 204.40M423.70 199.60L418.90 204.40" stroke="#A58AFF" stroke-width="1.05"/><path d="M421.83 174.10H428.63M425.23 170.70V177.50M422.83 171.70L427.63 176.50M427.63 171.70L422.83 176.50" stroke="#A58AFF" stroke-width="1.05"/><path d="M425.76 189.90H432.56M429.16 186.50V193.30M426.76 187.50L431.56 192.30M431.56 187.50L426.76 192.30" stroke="#A58AFF" stroke-width="1.05"/><path d="M429.69 168.80H436.49M433.09 165.40V172.20M430.69 166.40L435.49 171.20M435.49 166.40L430.69 171.20" stroke="#A58AFF" stroke-width="1.05"/><path d="M433.62 202.70H440.42M437.02 199.30V206.10M434.62 200.30L439.42 205.10M439.42 200.30L434.62 205.10" stroke="#A58AFF" stroke-width="1.05"/><path d="M437.55 205.00H444.35M440.95 201.60V208.40M438.55 202.60L443.35 207.40M443.35 202.60L438.55 207.40" stroke="#A58AFF" stroke-width="1.05"/><path d="M441.48 184.60H448.28M444.88 181.20V188.00M442.48 182.20L447.28 187.00M447.28 182.20L442.48 187.00" stroke="#A58AFF" stroke-width="1.05"/><path d="M445.41 196.50H452.21M448.81 193.10V199.90M446.41 194.10L451.21 198.90M451.21 194.10L446.41 198.90" stroke="#A58AFF" stroke-width="1.05"/><path d="M449.34 197.50H456.14M452.74 194.10V200.90M450.34 195.10L455.14 199.90M455.14 195.10L450.34 199.90" stroke="#A58AFF" stroke-width="1.05"/><path d="M453.27 192.20H460.07M456.67 188.80V195.60M454.27 189.80L459.07 194.60M459.07 189.80L454.27 194.60" stroke="#A58AFF" stroke-width="1.05"/><path d="M457.20 186.90H464.00M460.60 183.50V190.30M458.20 184.50L463.00 189.30M463.00 184.50L458.20 189.30" stroke="#A58AFF" stroke-width="1.05"/><path d="M461.13 199.70H467.93M464.53 196.30V203.10M462.13 197.30L466.93 202.10M466.93 197.30L462.13 202.10" stroke="#A58AFF" stroke-width="1.05"/><path d="M465.06 198.20H471.86M468.46 194.80V201.60M466.06 195.80L470.86 200.60M470.86 195.80L466.06 200.60" stroke="#A58AFF" stroke-width="1.05"/><path d="M468.99 197.50H475.79M472.39 194.10V200.90M469.99 195.10L474.79 199.90M474.79 195.10L469.99 199.90" stroke="#A58AFF" stroke-width="1.05"/><path d="M472.92 194.00H479.72M476.32 190.60V197.40M473.92 191.60L478.72 196.40M478.72 191.60L473.92 196.40" stroke="#A58AFF" stroke-width="1.05"/><path d="M476.85 199.00H483.65M480.25 195.60V202.40M477.85 196.60L482.65 201.40M482.65 196.60L477.85 201.40" stroke="#A58AFF" stroke-width="1.05"/><path d="M480.78 199.70H487.58M484.18 196.30V203.10M481.78 197.30L486.58 202.10M486.58 197.30L481.78 202.10" stroke="#A58AFF" stroke-width="1.05"/><path d="M484.71 201.20H491.51M488.11 197.80V204.60M485.71 198.80L490.51 203.60M490.51 198.80L485.71 203.60" stroke="#A58AFF" stroke-width="1.05"/><path d="M488.64 208.80H495.44M492.04 205.40V212.20M489.64 206.40L494.44 211.20M494.44 206.40L489.64 211.20" stroke="#A58AFF" stroke-width="1.05"/><path d="M492.57 207.50H499.37M495.97 204.10V210.90M493.57 205.10L498.37 209.90M498.37 205.10L493.57 209.90" stroke="#A58AFF" stroke-width="1.05"/><path d="M496.50 197.30H503.30M499.90 193.90V200.70M497.50 194.90L502.30 199.70M502.30 194.90L497.50 199.70" stroke="#A58AFF" stroke-width="1.05"/><path d="M500.43 196.70H507.23M503.83 193.30V200.10M501.43 194.30L506.23 199.10M506.23 194.30L501.43 199.10" stroke="#A58AFF" stroke-width="1.05"/><path d="M504.36 209.90H511.16M507.76 206.50V213.30M505.36 207.50L510.16 212.30M510.16 207.50L505.36 212.30" stroke="#A58AFF" stroke-width="1.05"/><path d="M508.29 197.60H515.09M511.69 194.20V201.00M509.29 195.20L514.09 200.00M514.09 195.20L509.29 200.00" stroke="#A58AFF" stroke-width="1.05"/><path d="M512.22 189.10H519.02M515.62 185.70V192.50M513.22 186.70L518.02 191.50M518.02 186.70L513.22 191.50" stroke="#A58AFF" stroke-width="1.05"/><path d="M516.15 206.60H522.95M519.55 203.20V210.00M517.15 204.20L521.95 209.00M521.95 204.20L517.15 209.00" stroke="#A58AFF" stroke-width="1.05"/><path d="M520.08 195.30H526.88M523.48 191.90V198.70M521.08 192.90L525.88 197.70M525.88 192.90L521.08 197.70" stroke="#A58AFF" stroke-width="1.05"/><path d="M524.01 191.00H530.81M527.41 187.60V194.40M525.01 188.60L529.81 193.40M529.81 188.60L525.01 193.40" stroke="#A58AFF" stroke-width="1.05"/><path d="M527.94 180.50H534.74M531.34 177.10V183.90M528.94 178.10L533.74 182.90M533.74 178.10L528.94 182.90" stroke="#A58AFF" stroke-width="1.05"/><path d="M531.87 206.60H538.67M535.27 203.20V210.00M532.87 204.20L537.67 209.00M537.67 204.20L532.87 209.00" stroke="#A58AFF" stroke-width="1.05"/>
<path d="M401.65 196.41L535.27 197.62" stroke="#A58AFF" stroke-width="1.8"/>
</g>
<rect x="395.50" y="148.30" width="146.00" height="68.70" fill="none" stroke="#333333" stroke-width="1"/>
<text x="468.50" y="138.00" text-anchor="middle" font-size="12.0" fill="#1A1A1A">Wind (m/s)</text>
<path d="M393.30 152.00H395.50" stroke="#333333" stroke-width="1"/>
<text x="389.30" y="156.50" text-anchor="end" font-size="12.7" fill="#4D4D4D">2.76</text>
<path d="M393.30 168.40H395.50" stroke="#333333" stroke-width="1"/>
<text x="389.30" y="172.90" text-anchor="end" font-size="12.7" fill="#4D4D4D">2.73</text>
<path d="M393.30 184.80H395.50" stroke="#333333" stroke-width="1"/>
<text x="389.30" y="189.30" text-anchor="end" font-size="12.7" fill="#4D4D4D">2.70</text>
<path d="M393.30 201.30H395.50" stroke="#333333" stroke-width="1"/>
<text x="389.30" y="205.80" text-anchor="end" font-size="12.7" fill="#4D4D4D">2.67</text>
<path d="M433.09 217.00V219.20" stroke="#333333" stroke-width="1"/>
<text x="433.09" y="231.10" text-anchor="middle" font-size="12.7" fill="#4D4D4D">1990</text>
<path d="M472.39 217.00V219.20" stroke="#333333" stroke-width="1"/>
<text x="472.39" y="231.10" text-anchor="middle" font-size="12.7" fill="#4D4D4D">2000</text>
<path d="M511.69 217.00V219.20" stroke="#333333" stroke-width="1"/>
<text x="511.69" y="231.10" text-anchor="middle" font-size="12.7" fill="#4D4D4D">2010</text>
<text x="451.80" y="161.40" font-size="10.4" fill="#1A1A1A" stroke="#1A1A1A" stroke-width="0.12">R<tspan dy="-4.6" dx="-0.2" font-size="7.5">2</tspan><tspan dy="4.6"> = 0.01 </tspan><tspan font-style="italic">p</tspan> = 0.83</text>
<text x="451.80" y="171.20" font-size="10.4" fill="#1A1A1A" stroke="#1A1A1A" stroke-width="0.12">Slope = −0.001</text>
<rect x="32.40" y="225.60" width="146.00" height="29.00" fill="#D9D9D9" stroke="#333333" stroke-width="1"/>
<g clip-path="url(#cp02)">
<clipPath id="cp02"><rect x="32.40" y="254.60" width="146.00" height="68.40"/></clipPath>
<path d="M32.40 270.25H178.40" stroke="#EBEBEB" stroke-width="0.5"/><path d="M32.40 289.35H178.40" stroke="#EBEBEB" stroke-width="0.5"/><path d="M32.40 308.45H178.40" stroke="#EBEBEB" stroke-width="0.5"/><path d="M50.34 254.60V323.00" stroke="#EBEBEB" stroke-width="0.5"/><path d="M89.64 254.60V323.00" stroke="#EBEBEB" stroke-width="0.5"/><path d="M128.94 254.60V323.00" stroke="#EBEBEB" stroke-width="0.5"/><path d="M168.24 254.60V323.00" stroke="#EBEBEB" stroke-width="0.5"/><path d="M32.40 260.70H178.40" stroke="#EBEBEB" stroke-width="1"/><path d="M32.40 279.80H178.40" stroke="#EBEBEB" stroke-width="1"/><path d="M32.40 298.90H178.40" stroke="#EBEBEB" stroke-width="1"/><path d="M32.40 318.00H178.40" stroke="#EBEBEB" stroke-width="1"/><path d="M69.99 254.60V323.00" stroke="#EBEBEB" stroke-width="1"/><path d="M109.29 254.60V323.00" stroke="#EBEBEB" stroke-width="1"/><path d="M148.59 254.60V323.00" stroke="#EBEBEB" stroke-width="1"/>
<polygon points="38.55,318.05 41.89,316.62 45.23,315.20 48.57,313.77 51.91,312.34 55.25,310.92 58.59,309.49 61.93,308.06 65.27,306.63 68.61,305.19 71.95,303.76 75.30,302.33 78.64,300.89 81.98,299.45 85.32,298.01 88.66,296.56 92.00,295.12 95.34,293.67 98.68,292.21 102.02,290.75 105.36,289.29 108.70,287.83 112.04,286.36 115.38,284.89 118.72,283.41 122.06,281.93 125.40,280.45 128.74,278.97 132.08,277.48 135.42,275.99 138.76,274.50 142.11,273.01 145.45,271.51 148.79,270.02 152.13,268.52 155.47,267.02 158.81,265.52 162.15,264.03 165.49,262.53 168.83,261.02 172.17,259.52 172.17,261.60 168.83,263.03 165.49,264.45 162.15,265.88 158.81,267.30 155.47,268.73 152.13,270.16 148.79,271.59 145.45,273.02 142.11,274.45 138.76,275.89 135.42,277.32 132.08,278.76 128.74,280.20 125.40,281.64 122.06,283.08 118.72,284.53 115.38,285.98 112.04,287.44 108.70,288.89 105.36,290.35 102.02,291.82 98.68,293.29 95.34,294.76 92.00,296.24 88.66,297.71 85.32,299.20 81.98,300.68 78.64,302.17 75.30,303.66 71.95,305.15 68.61,306.64 65.27,308.13 61.93,309.63 58.59,311.13 55.25,312.62 51.91,314.12 48.57,315.62 45.23,317.12 41.89,318.62 38.55,320.12" fill="#999999" fill-opacity="0.4"/>
<polyline points="38.55,317.11 42.48,315.54 46.41,313.97 50.34,312.56 54.27,311.36 58.20,309.66 62.13,307.23 66.06,305.86 69.99,304.64 73.92,303.30 77.85,302.56 81.78,301.92 85.71,300.16 89.64,298.25 93.57,296.57 97.50,295.50 101.43,292.76 105.36,291.15 109.29,290.04 113.22,288.57 117.15,286.58 121.08,284.15 125.01,282.49 128.94,280.31 132.87,278.18 136.80,276.37 140.73,274.64 144.66,272.90 148.59,270.54 152.52,268.87 156.45,266.76 160.38,264.21 164.31,262.18 168.24,260.10 172.17,256.84" fill="none" stroke="#FB61D7" stroke-width="1.35" stroke-linejoin="round"/>
<path d="M38.55 313.61L42.05 317.11L38.55 320.61L35.05 317.11ZM35.05 317.11H42.05M38.55 313.61V320.61" fill="none" stroke="#FB61D7" stroke-width="1.1"/><path d="M42.48 312.04L45.98 315.54L42.48 319.04L38.98 315.54ZM38.98 315.54H45.98M42.48 312.04V319.04" fill="none" stroke="#FB61D7" stroke-width="1.1"/><path d="M46.41 310.47L49.91 313.97L46.41 317.47L42.91 313.97ZM42.91 313.97H49.91M46.41 310.47V317.47" fill="none" stroke="#FB61D7" stroke-width="1.1"/><path d="M50.34 309.06L53.84 312.56L50.34 316.06L46.84 312.56ZM46.84 312.56H53.84M50.34 309.06V316.06" fill="none" stroke="#FB61D7" stroke-width="1.1"/><path d="M54.27 307.86L57.77 311.36L54.27 314.86L50.77 311.36ZM50.77 311.36H57.77M54.27 307.86V314.86" fill="none" stroke="#FB61D7" stroke-width="1.1"/><path d="M58.20 306.16L61.70 309.66L58.20 313.16L54.70 309.66ZM54.70 309.66H61.70M58.20 306.16V313.16" fill="none" stroke="#FB61D7" stroke-width="1.1"/><path d="M62.13 303.73L65.63 307.23L62.13 310.73L58.63 307.23ZM58.63 307.23H65.63M62.13 303.73V310.73" fill="none" stroke="#FB61D7" stroke-width="1.1"/><path d="M66.06 302.36L69.56 305.86L66.06 309.36L62.56 305.86ZM62.56 305.86H69.56M66.06 302.36V309.36" fill="none" stroke="#FB61D7" stroke-width="1.1"/><path d="M69.99 301.14L73.49 304.64L69.99 308.14L66.49 304.64ZM66.49 304.64H73.49M69.99 301.14V308.14" fill="none" stroke="#FB61D7" stroke-width="1.1"/><path d="M73.92 299.80L77.42 303.30L73.92 306.80L70.42 303.30ZM70.42 303.30H77.42M73.92 299.80V306.80" fill="none" stroke="#FB61D7" stroke-width="1.1"/><path d="M77.85 299.06L81.35 302.56L77.85 306.06L74.35 302.56ZM74.35 302.56H81.35M77.85 299.06V306.06" fill="none" stroke="#FB61D7" stroke-width="1.1"/><path d="M81.78 298.42L85.28 301.92L81.78 305.42L78.28 301.92ZM78.28 301.92H85.28M81.78 298.42V305.42" fill="none" stroke="#FB61D7" stroke-width="1.1"/><path d="M85.71 296.66L89.21 300.16L85.71 303.66L82.21 300.16ZM82.21 300.16H89.21M85.71 296.66V303.66" fill="none" stroke="#FB61D7" stroke-width="1.1"/><path d="M89.64 294.75L93.14 298.25L89.64 301.75L86.14 298.25ZM86.14 298.25H93.14M89.64 294.75V301.75" fill="none" stroke="#FB61D7" stroke-width="1.1"/><path d="M93.57 293.07L97.07 296.57L93.57 300.07L90.07 296.57ZM90.07 296.57H97.07M93.57 293.07V300.07" fill="none" stroke="#FB61D7" stroke-width="1.1"/><path d="M97.50 292.00L101.00 295.50L97.50 299.00L94.00 295.50ZM94.00 295.50H101.00M97.50 292.00V299.00" fill="none" stroke="#FB61D7" stroke-width="1.1"/><path d="M101.43 289.26L104.93 292.76L101.43 296.26L97.93 292.76ZM97.93 292.76H104.93M101.43 289.26V296.26" fill="none" stroke="#FB61D7" stroke-width="1.1"/><path d="M105.36 287.65L108.86 291.15L105.36 294.65L101.86 291.15ZM101.86 291.15H108.86M105.36 287.65V294.65" fill="none" stroke="#FB61D7" stroke-width="1.1"/><path d="M109.29 286.54L112.79 290.04L109.29 293.54L105.79 290.04ZM105.79 290.04H112.79M109.29 286.54V293.54" fill="none" stroke="#FB61D7" stroke-width="1.1"/><path d="M113.22 285.07L116.72 288.57L113.22 292.07L109.72 288.57ZM109.72 288.57H116.72M113.22 285.07V292.07" fill="none" stroke="#FB61D7" stroke-width="1.1"/><path d="M117.15 283.08L120.65 286.58L117.15 290.08L113.65 286.58ZM113.65 286.58H120.65M117.15 283.08V290.08" fill="none" stroke="#FB61D7" stroke-width="1.1"/><path d="M121.08 280.65L124.58 284.15L121.08 287.65L117.58 284.15ZM117.58 284.15H124.58M121.08 280.65V287.65" fill="none" stroke="#FB61D7" stroke-width="1.1"/><path d="M125.01 278.99L128.51 282.49L125.01 285.99L121.51 282.49ZM121.51 282.49H128.51M125.01 278.99V285.99" fill="none" stroke="#FB61D7" stroke-width="1.1"/><path d="M128.94 276.81L132.44 280.31L128.94 283.81L125.44 280.31ZM125.44 280.31H132.44M128.94 276.81V283.81" fill="none" stroke="#FB61D7" stroke-width="1.1"/><path d="M132.87 274.68L136.37 278.18L132.87 281.68L129.37 278.18ZM129.37 278.18H136.37M132.87 274.68V281.68" fill="none" stroke="#FB61D7" stroke-width="1.1"/><path d="M136.80 272.87L140.30 276.37L136.80 279.87L133.30 276.37ZM133.30 276.37H140.30M136.80 272.87V279.87" fill="none" stroke="#FB61D7" stroke-width="1.1"/><path d="M140.73 271.14L144.23 274.64L140.73 278.14L137.23 274.64ZM137.23 274.64H144.23M140.73 271.14V278.14" fill="none" stroke="#FB61D7" stroke-width="1.1"/><path d="M144.66 269.40L148.16 272.90L144.66 276.40L141.16 272.90ZM141.16 272.90H148.16M144.66 269.40V276.40" fill="none" stroke="#FB61D7" stroke-width="1.1"/><path d="M148.59 267.04L152.09 270.54L148.59 274.04L145.09 270.54ZM145.09 270.54H152.09M148.59 267.04V274.04" fill="none" stroke="#FB61D7" stroke-width="1.1"/><path d="M152.52 265.37L156.02 268.87L152.52 272.37L149.02 268.87ZM149.02 268.87H156.02M152.52 265.37V272.37" fill="none" stroke="#FB61D7" stroke-width="1.1"/><path d="M156.45 263.26L159.95 266.76L156.45 270.26L152.95 266.76ZM152.95 266.76H159.95M156.45 263.26V270.26" fill="none" stroke="#FB61D7" stroke-width="1.1"/><path d="M160.38 260.71L163.88 264.21L160.38 267.71L156.88 264.21ZM156.88 264.21H163.88M160.38 260.71V267.71" fill="none" stroke="#FB61D7" stroke-width="1.1"/><path d="M164.31 258.68L167.81 262.18L164.31 265.68L160.81 262.18ZM160.81 262.18H167.81M164.31 258.68V265.68" fill="none" stroke="#FB61D7" stroke-width="1.1"/><path d="M168.24 256.60L171.74 260.10L168.24 263.60L164.74 260.10ZM164.74 260.10H171.74M168.24 256.60V263.60" fill="none" stroke="#FB61D7" stroke-width="1.1"/><path d="M172.17 253.34L175.67 256.84L172.17 260.34L168.67 256.84ZM168.67 256.84H175.67M172.17 253.34V260.34" fill="none" stroke="#FB61D7" stroke-width="1.1"/>
<path d="M38.55 319.09L172.17 260.56" stroke="#FB61D7" stroke-width="1.8"/>
</g>
<rect x="32.40" y="254.60" width="146.00" height="68.40" fill="none" stroke="#333333" stroke-width="1"/>
<text x="105.40" y="244.20" text-anchor="middle" font-size="12.0" fill="#1A1A1A">CO2 (ppm)</text>
<path d="M30.20 260.70H32.40" stroke="#333333" stroke-width="1"/>
<text x="26.20" y="265.20" text-anchor="end" font-size="12.7" fill="#4D4D4D">400</text>
<path d="M30.20 279.80H32.40" stroke="#333333" stroke-width="1"/>
<text x="26.20" y="284.30" text-anchor="end" font-size="12.7" fill="#4D4D4D">380</text>
<path d="M30.20 298.90H32.40" stroke="#333333" stroke-width="1"/>
<text x="26.20" y="303.40" text-anchor="end" font-size="12.7" fill="#4D4D4D">360</text>
<path d="M30.20 318.00H32.40" stroke="#333333" stroke-width="1"/>
<text x="26.20" y="322.50" text-anchor="end" font-size="12.7" fill="#4D4D4D">340</text>
<path d="M69.99 323.00V325.20" stroke="#333333" stroke-width="1"/>
<text x="69.99" y="337.10" text-anchor="middle" font-size="12.7" fill="#4D4D4D">1990</text>
<path d="M109.29 323.00V325.20" stroke="#333333" stroke-width="1"/>
<text x="109.29" y="337.10" text-anchor="middle" font-size="12.7" fill="#4D4D4D">2000</text>
<path d="M148.59 323.00V325.20" stroke="#333333" stroke-width="1"/>
<text x="148.59" y="337.10" text-anchor="middle" font-size="12.7" fill="#4D4D4D">2010</text>
<text x="41.50" y="267.10" font-size="10.4" fill="#1A1A1A" stroke="#1A1A1A" stroke-width="0.12">R<tspan dy="-4.6" dx="-0.2" font-size="7.5">2</tspan><tspan dy="4.6"> = 0.99 </tspan><tspan font-style="italic">p</tspan> &lt; 0.01</text>
<text x="41.50" y="277.70" font-size="10.4" fill="#1A1A1A" stroke="#1A1A1A" stroke-width="0.12">Slope = 1.767</text>
</svg>
</body></html>
